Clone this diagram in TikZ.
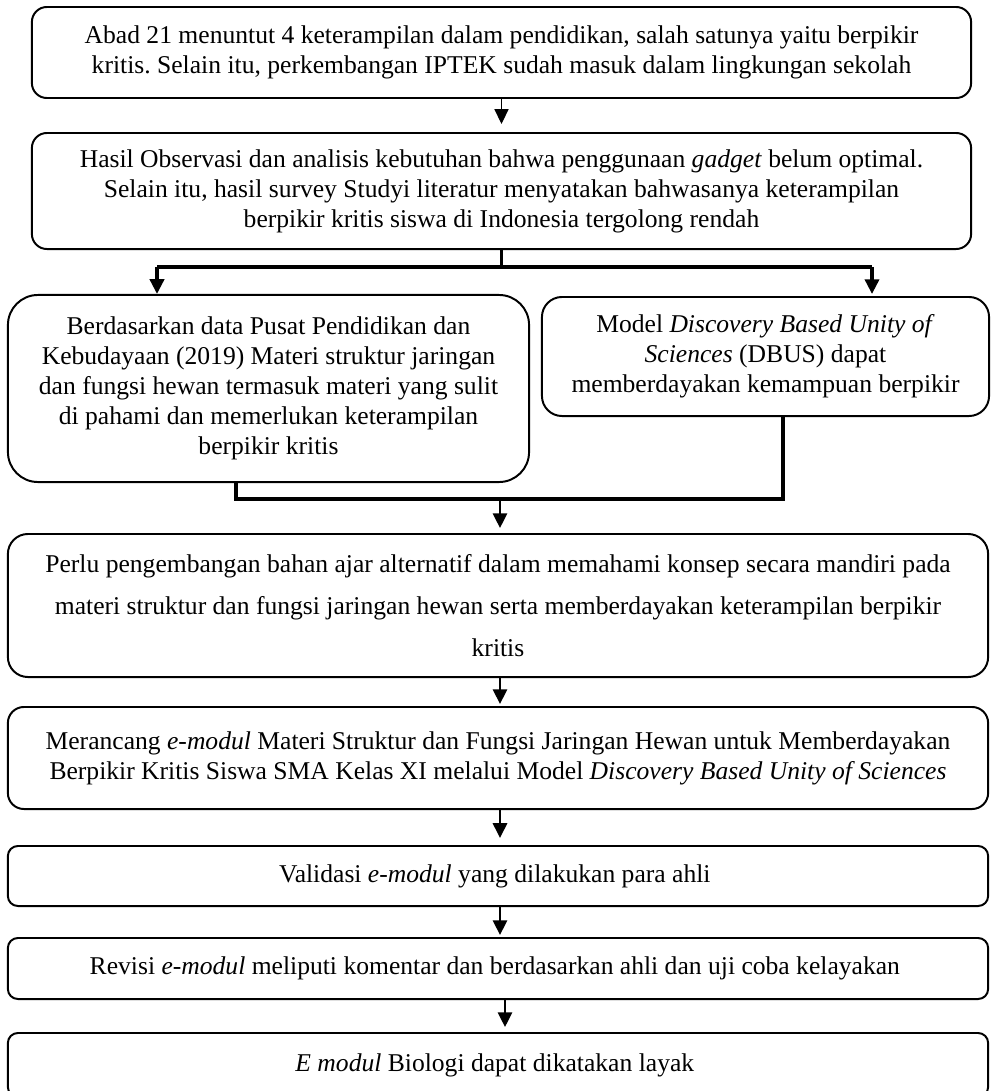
\documentclass[tikz,border=0pt]{standalone}
\usepackage{fontspec}
\setmainfont{Liberation Serif}
\usetikzlibrary{arrows.meta, positioning, calc}

\tikzset{
    flowbox/.style={draw, line width=1.4pt, align=center, inner sep=0pt,
                    font=\fontsize{18.2}{21.3}\selectfont},
    flowarrow/.style={line width=2pt, -{Triangle[length=10.5pt, width=10pt]}},
    joinline/.style={line width=2.5pt}
}
\frenchspacing

\begin{document}
\begin{tikzpicture}[x=0.025cm, y=-0.025cm]
    \useasboundingbox (0,0) rectangle (992,1091);

    % boxes
    \node[flowbox, rounded corners=0.375cm, minimum width=23.475cm, minimum height=2.275cm] (abad) at (501.5,52.5) {
        Abad 21 menuntut 4 keterampilan dalam pendidikan, salah satunya yaitu berpikir\\
        kritis. Selain itu, perkembangan IPTEK sudah masuk dalam lingkungan sekolah
    };
    \node[flowbox, rounded corners=0.375cm, minimum width=23.475cm, minimum height=2.9cm] (observasi) at (501.5,191) {
        Hasil Observasi dan analisis kebutuhan bahwa penggunaan \textit{gadget} belum optimal.\\
        Selain itu, hasil survey Studyi literatur menyatakan bahwasanya keterampilan\\
        berpikir kritis siswa di Indonesia tergolong rendah
    };
    \node[flowbox, rounded corners=0.75cm, minimum width=13.025cm, minimum height=4.675cm] (pusdik) at (268.5,388.5) {
        Berdasarkan data Pusat Pendidikan dan\\
        Kebudayaan (2019) Materi struktur jaringan\\
        dan fungsi hewan termasuk materi yang sulit\\
        di pahami dan memerlukan keterampilan\\
        berpikir kritis
    };
    \node[flowbox, rounded corners=0.5cm, minimum width=11.175cm, minimum height=2.975cm] (dbus) at (765.5,356.5) {
        Model \textit{Discovery Based Unity of}\\
        \textit{Sciences} (DBUS) dapat\\
        memberdayakan kemampuan berpikir
    };
    \node[flowbox, rounded corners=0.5cm, minimum width=24.5cm, minimum height=3.575cm,
          font=\fontsize{18.2}{30}\selectfont] (perlu) at (498,605.5) {
        Perlu pengembangan bahan ajar alternatif dalam memahami konsep secara mandiri pada\\
        materi struktur dan fungsi jaringan hewan serta memberdayakan keterampilan berpikir\\
        kritis
    };
    \node[flowbox, rounded corners=0.4cm, minimum width=24.5cm, minimum height=2.55cm] (rancang) at (498,758) {
        Merancang \textit{e-modul} Materi Struktur dan Fungsi Jaringan Hewan untuk Memberdayakan\\
        Berpikir Kritis Siswa SMA Kelas XI melalui Model \textit{Discovery Based Unity of Sciences}
    };
    \node[flowbox, rounded corners=0.25cm, minimum width=24.5cm, minimum height=1.5cm] (validasi) at (498,876) {
        Validasi \textit{e-modul} yang dilakukan para ahli
    };
    \node[flowbox, rounded corners=0.25cm, minimum width=24.5cm, minimum height=1.525cm] (revisi) at (498,968.5) {
        Revisi \textit{e-modul} meliputi komentar dan berdasarkan ahli dan uji coba kelayakan
    };
    \node[flowbox, rounded corners=0.25cm, minimum width=24.5cm, minimum height=1.6cm] (layak) at (498,1065) {
        \textit{E modul} Biologi dapat dikatakan layak
    };

    % connectors
    \draw[flowarrow, line width=0.8pt, shorten >=5.7pt] (abad) -- (observasi);

    \coordinate (splitL) at (157,267);
    \coordinate (splitR) at (872,267);
    \draw[joinline] (observasi.south) -- (observasi.south |- splitL);
    \draw[joinline] (splitL) -- (splitR);
    \draw[flowarrow, line width=2.5pt] (splitL) -- (splitL |- pusdik.north);
    \draw[flowarrow, line width=2.5pt, shorten >=1.4pt] (splitR) -- (splitR |- dbus.north);

    \coordinate (joinL) at (236,499);
    \coordinate (joinR) at (783,499);
    \coordinate (joinM) at (500,499);
    \draw[joinline] (joinL |- pusdik.south) -- (joinL) -- (joinR) -- (joinR |- dbus.south);
    \draw[flowarrow, shorten >=3.5pt] (joinM) -- (joinM |- perlu.north);

    \draw[flowarrow, shorten >=1.4pt] (perlu.south -| joinM) -- (rancang.north -| joinM);
    \draw[flowarrow, shorten >=5pt] (rancang.south -| joinM) -- (validasi.north -| joinM);
    \draw[flowarrow, shorten >=1.4pt] (validasi.south -| joinM) -- (revisi.north -| joinM);
    \coordinate (lastM) at (505,1000);
    \draw[flowarrow, shorten >=3.5pt] (revisi.south -| lastM) -- (layak.north -| lastM);
\end{tikzpicture}
\end{document}
